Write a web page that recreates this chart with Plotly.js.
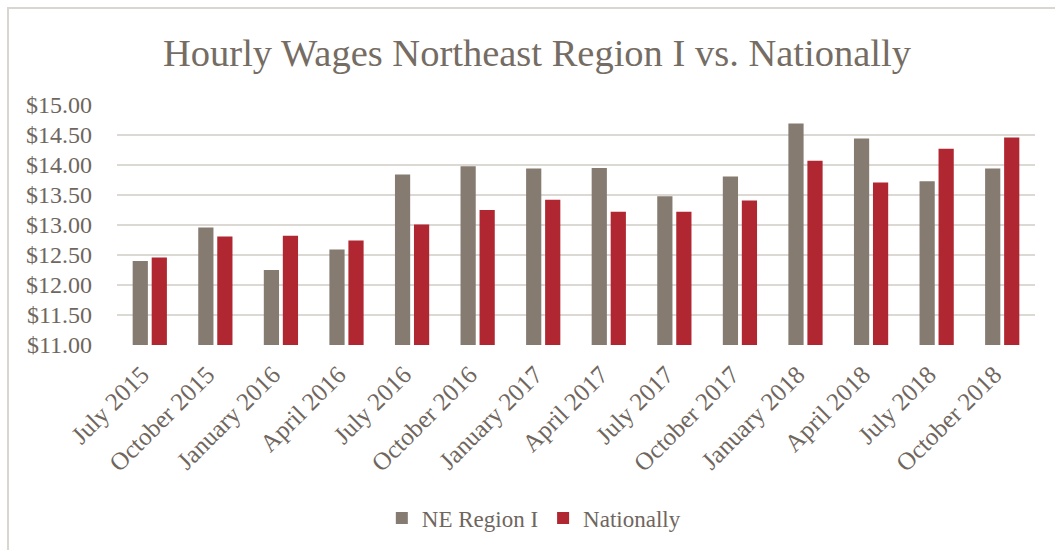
<!DOCTYPE html>
<html>
<head>
<meta charset="utf-8">
<script src="https://cdn.plot.ly/plotly-3.0.1.min.js"></script>
<style>
  html, body { margin: 0; padding: 0; background: #ffffff; }
  #frame { position: absolute; left: 7px; top: 7px; width: 1100px; height: 600px;
           border-left: 2px solid #d9d5d1; border-top: 2px solid #d9d5d1; }
  #chart { position: absolute; left: 0; top: 0; width: 1055px; height: 550px; }
</style>
</head>
<body>
<div id="frame"></div>
<div id="chart"></div>
<script>
const categories = ["July 2015", "October 2015", "January 2016", "April 2016", "July 2016",
  "October 2016", "January 2017", "April 2017", "July 2017", "October 2017",
  "January 2018", "April 2018", "July 2018", "October 2018"];
const neRegion = [12.40, 12.96, 12.25, 12.59, 13.84, 13.98, 13.94, 13.95, 13.48, 13.81, 14.69, 14.44, 13.73, 13.94];
const nationally = [12.46, 12.81, 12.82, 12.74, 13.01, 13.25, 13.42, 13.22, 13.22, 13.41, 14.07, 13.71, 14.27, 14.46];
const seriesNames = ["NE Region I", "Nationally"];

const textColor = "#6f665e";
const fontFam = "Liberation Serif, serif";

const traces = [
  { type: "bar", name: seriesNames[0], x: categories, y: neRegion,
    marker: { color: "#857b71" }, hoverinfo: "x+y" },
  { type: "bar", name: seriesNames[1], x: categories, y: nationally,
    marker: { color: "#b02631" }, hoverinfo: "x+y" }
];

const layout = {
  width: 1055, height: 550,
  paper_bgcolor: "rgba(0,0,0,0)", plot_bgcolor: "rgba(0,0,0,0)",
  margin: { l: 117, r: 20, t: 105, b: 205 },
  font: { family: fontFam, color: textColor, size: 24 },
  title: { text: "Hourly Wages Northeast Region I vs. Nationally",
           font: { family: fontFam, size: 38.5, color: "#756c63" },
           x: 0.509, xref: "container", xanchor: "center", y: 0.905, yref: "container", yanchor: "middle" },
  barmode: "group", bargap: 0.42, bargroupgap: 0.2,
  xaxis: { type: "category", tickangle: -45, showgrid: false, zeroline: false,
           showline: false, ticks: "", tickfont: { size: 25, color: textColor }, automargin: false,
           ticklabelshift: -8, ticklabelstandoff: 9 },
  yaxis: { range: [11, 15], dtick: 0.5, tick0: 11, tickprefix: "$", tickformat: ".2f",
           showgrid: true, gridcolor: "#dcd8d4", gridwidth: 1.5, zeroline: false, showline: false,
           ticks: "", ticklabelstandoff: 24, tickfont: { size: 24, color: textColor }, automargin: false },
  showlegend: true,
  legend: { orientation: "h", x: 0.506, xref: "container", xanchor: "center",
            y: 0.058, yref: "container", yanchor: "middle",
            font: { size: 23, color: textColor }, itemwidth: 30 }
};

Plotly.newPlot("chart", traces, layout, { displayModeBar: false, staticPlot: true });
</script>
</body>
</html>
